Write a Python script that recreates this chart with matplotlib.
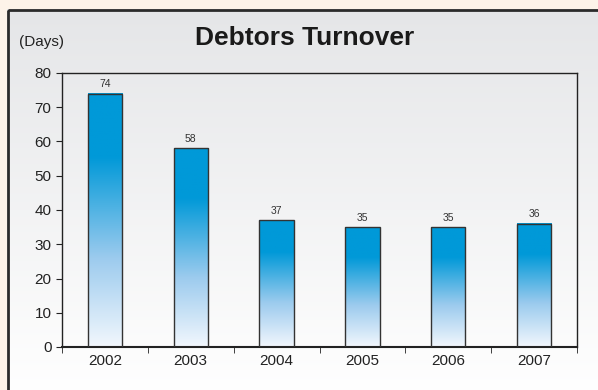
import numpy as np
import matplotlib.pyplot as plt
from matplotlib.colors import LinearSegmentedColormap
from matplotlib.patches import Rectangle

plt.rcParams['font.family'] = ['Liberation Sans', 'DejaVu Sans']

years = ['2002', '2003', '2004', '2005', '2006', '2007']
days = [74, 58, 37, 35, 35, 36]

W, H = 598, 390
fig = plt.figure(figsize=(W / 100, H / 100), dpi=100)
fig.patch.set_facecolor('#fdf3e9')

# panel background with a soft grey-to-white fade
bg = fig.add_axes([0, 0, 1, 1], zorder=0)
bg.set_xlim(0, W)
bg.set_ylim(H, 0)
bg.axis('off')
panel_cmap = LinearSegmentedColormap.from_list('panel', ['#e5e6e8', '#ffffff'])
grad = np.linspace(0, 1, 256).reshape(-1, 1)
bg.imshow(grad, cmap=panel_cmap, extent=[7, W + 5, H + 5, 9], aspect='auto')
bg.add_patch(Rectangle((7.5, 9.5), W, H, fill=False, edgecolor='#2b2b2b', lw=2))

ax = fig.add_axes([62 / W, 1 - 347 / H, (577 - 62) / W, (347 - 73) / H], zorder=1)
ax.patch.set_alpha(0)

bar_cmap = LinearSegmentedColormap.from_list(
    'bar', [(0, '#f2f7fd'), (0.35, '#9ccbee'), (0.75, '#0099d8'), (1, '#0099d8')])
bar_grad = np.linspace(1, 0, 256).reshape(-1, 1)
width = 0.4
x = np.arange(len(years))
for xi, v in zip(x, days):
    ax.imshow(bar_grad, cmap=bar_cmap, extent=[xi - width / 2, xi + width / 2, 0, v],
              aspect='auto', zorder=2)
    ax.add_patch(Rectangle((xi - width / 2, 0), width, v, fill=False,
                           edgecolor='#333333', lw=1, zorder=3))
    ax.text(xi, v + 1.3, str(v), ha='center', va='bottom', fontsize=7.5, color='#333333')

ax.set_xlim(-0.5, len(years) - 0.5)
ax.set_ylim(0, 80)
ax.set_yticks(range(0, 81, 10))
ax.set_xticks(x)
ax.set_xticklabels(years)
ax.set_xticks(np.arange(-0.5, len(years)), minor=True)
ax.tick_params(axis='x', which='major', length=0, labelsize=11, pad=5, colors='#222222')
ax.tick_params(axis='x', which='minor', length=4, direction='out', color='#222222')
ax.tick_params(axis='y', length=4, direction='out', labelsize=11, color='#222222',
               labelcolor='#222222')
for s in ax.spines.values():
    s.set_color('#222222')
    s.set_linewidth(1)
ax.spines['bottom'].set_linewidth(1.5)

fig.text(305 / W, 1 - 38 / H, 'Debtors Turnover', ha='center', va='center',
         fontsize=19, fontweight='bold', color='#1a1a1a')
fig.text(19 / W, 1 - 42 / H, '(Days)', ha='left', va='center', fontsize=11, color='#222222')

fig.savefig('out.png', dpi=100)
